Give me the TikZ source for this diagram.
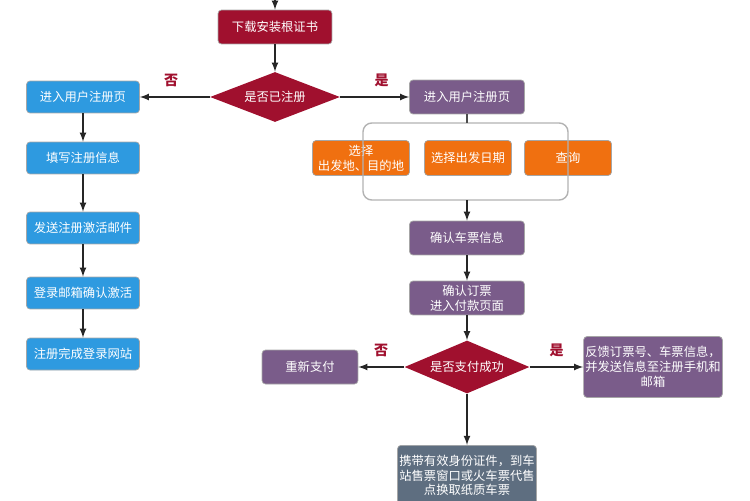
\documentclass[tikz,border=0pt]{standalone}
\usepackage{fontspec}
\newfontfamily\cjk{Noto Sans CJK SC}
\usepackage{tikz}
\usetikzlibrary{arrows, shapes, shapes.geometric, positioning}
\definecolor{crimson}{HTML}{A0102E}
\definecolor{skyblue}{HTML}{2E9AE0}
\definecolor{plum}{HTML}{7A5C8A}
\definecolor{tangerine}{HTML}{F07010}
\definecolor{slate}{HTML}{5E6E80}
\begin{document}
\begin{tikzpicture}[x=0.02cm, y=-0.02cm, font=\cjk\fontsize{7}{8.5}\selectfont,
        box/.style={rectangle, rounded corners=2pt, draw=gray!70, text=white, align=center, inner sep=1pt},
        redbox/.style={box, fill=crimson, minimum width=2.28cm, minimum height=0.68cm},
        bluebox/.style={box, fill=skyblue, minimum width=2.26cm, minimum height=0.64cm},
        purplebox/.style={box, fill=plum, minimum width=2.3cm, minimum height=0.68cm},
        orangebox/.style={box, fill=tangerine, minimum width=1.74cm, minimum height=0.7cm},
        decision/.style={diamond, aspect=2.6, fill=crimson, text=white, inner sep=0pt},
        yesno/.style={text=crimson, font=\cjk\fontsize{8}{9}\selectfont\bfseries},
        link/.style={-latex, thick, gray!30!black}]
            \useasboundingbox (0,0) rectangle (750,500);
            \coordinate (top) at (275,0);
            \node[redbox] (cert) at (275,27) {下载安装根证书};
            \node[decision, minimum width=2.6cm, minimum height=1cm] (reg) at (275,97) {是否已注册};
            
            % left column
            \node[bluebox] (l1) at (83,97) {进入用户注册页};
            \node[bluebox] (l2) at (83,158) {填写注册信息};
            \node[bluebox] (l3) at (83,228) {发送注册激活邮件};
            \node[bluebox] (l4) at (83,293) {登录邮箱确认激活};
            \node[bluebox] (l5) at (83,354) {注册完成登录网站};
            
            % right column
            \node[purplebox] (r1) at (467,97) {进入用户注册页};
            \node[orangebox, minimum width=1.94cm] (o1) at (361,158) {选择\\出发地、目的地};
            \node[orangebox] (o2) at (468,158) {选择出发日期};
            \node[orangebox] (o3) at (568,158) {查询};
            \node[purplebox] (r2) at (467,238) {确认车票信息};
            \node[purplebox] (r3) at (467,298) {确认订票\\进入付款页面};
            \node[decision, minimum width=2.5cm, minimum height=1.06cm] (pay) at (467,367) {是否支付成功};
            \node[purplebox, minimum width=1.92cm] (retry) at (310,367) {重新支付};
            \node[purplebox, minimum width=2.74cm, minimum height=1.22cm] (notify) at (653,367) {反馈订票号、车票信息，\\并发送信息至注册手机和\\邮箱};
            \node[box, fill=slate, minimum width=2.78cm, minimum height=1.2cm, anchor=north] (fetch) at (467,445) {携带有效身份证件，到车\\站售票窗口或火车票代售\\点换取纸质车票};
            
            \coordinate (ftop) at (467,123);
            \coordinate (fbot) at (467,200);
            \draw[thick, gray!60, rounded corners=5pt] (363,123) rectangle (568,200);
            
            \draw[link] (top) -- (cert);
            \draw[link] (cert) -- (reg);
            \draw[link] (reg) -- node[yesno, above=2pt, pos=0.55] {否} (l1);
            \draw[link] (reg) -- node[yesno, above=2pt, pos=0.6] {是} (r1);
            \draw[link] (l1) -- (l2);
            \draw[link] (l2) -- (l3);
            \draw[link] (l3) -- (l4);
            \draw[link] (l4) -- (l5);
            \draw[thick, gray!60!black] (r1) -- (ftop);
            \draw[link] (fbot) -- (r2);
            \draw[link] (r2) -- (r3);
            \draw[link] (r3) -- (pay);
            \draw[link] (pay) -- node[yesno, above=2pt] {否} (retry);
            \draw[link] (pay) -- node[yesno, above=2pt] {是} (notify);
            \draw[link] (pay) -- (fetch);
        \end{tikzpicture}
\end{document}
